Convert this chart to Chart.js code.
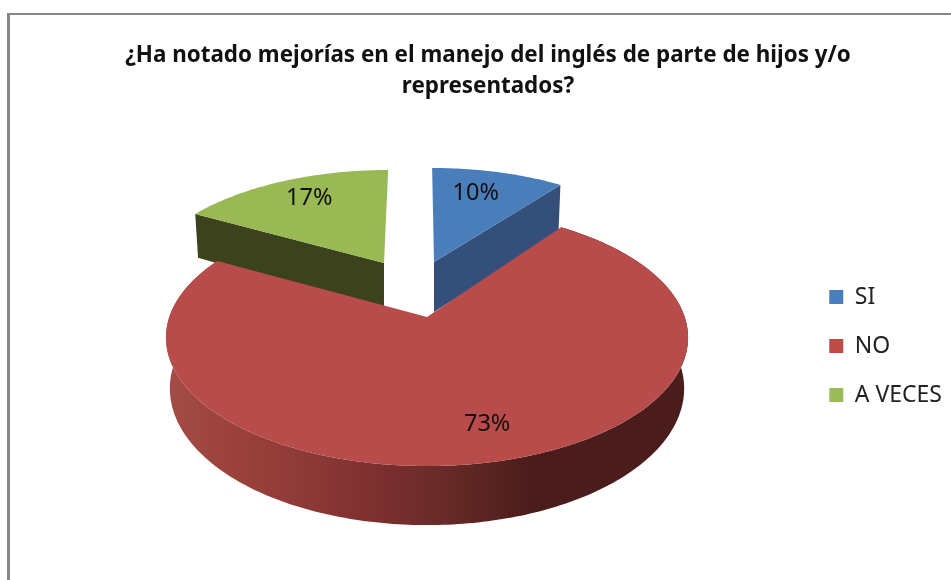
<!DOCTYPE html>
<html lang="es">
<head>
<meta charset="utf-8">
<style>
html,body{margin:0;padding:0;background:#fff;overflow:hidden;width:951px;height:580px}
#frame{position:absolute;left:7px;top:13px;width:1000px;height:700px;border-left:3px solid #868686;border-top:2px solid #868686}
#wrap{position:absolute;left:0;top:0;width:951px;height:580px}
</style>
<script src="https://cdn.jsdelivr.net/npm/chart.js@4/dist/chart.umd.js"></script>
</head>
<body>
<div id="frame"></div>
<div id="wrap"><canvas id="c" width="951" height="580"></canvas></div>
<script>
const titleLines = ['¿Ha notado mejorías en el manejo del inglés de parte de hijos y/o', 'representados?'];
const categories = ['SI', 'NO', 'A VECES'];
const percentages = [10, 73, 17];
const topColors = ['#4a7ebb', '#b84c4a', '#98b954'];
const legendColors = ['#4a7ebb', '#be4b48', '#9bbb59'];
const sideColors = ['#34507a', null, '#3c421c'];

// Projection of each (exploded) slice: apex, radii, perspective, shear, label placement.
const sliceViews = [
  {x0:434, y0:262, a:230,   b:100.6, k:-0.07,  s:2,  depth:50,   labelR:0.7, lx:-4.5, ly:-5},
  {x0:427, y0:317, a:257.7, b:125.2, k:-0.16,  s:0,  depth:49.6, labelR:0.7, lx:16,   ly:11},
  {x0:384, y0:263, a:238.7, b:111.4, k:-0.198, s:-5, depth:48,   labelR:0.7, lx:-1.5, ly:-5}
];
const drawOrder = [2, 0, 1];

function project(v, angle, r) {
  const uu = Math.cos(angle) * r, vv = Math.sin(angle) * r;
  const den = 1 + v.k * vv;
  return { x: v.x0 + (v.a * uu + v.s * vv) / den, y: v.y0 + v.b * vv / den, den };
}
function arcPoints(v, a0, a1) {
  const pts = [], n = Math.max(8, Math.ceil(Math.abs(a1 - a0) * 60));
  for (let i = 0; i <= n; i++) pts.push(project(v, a0 + (a1 - a0) * i / n, 1));
  return pts;
}
function down(v, p) {
  return { x: p.x + (v.x0 - p.x) * 0.015, y: p.y + v.depth / p.den };
}
function poly(ctx, pts, fill) {
  ctx.beginPath();
  pts.forEach((p, i) => i ? ctx.lineTo(p.x, p.y) : ctx.moveTo(p.x, p.y));
  ctx.closePath();
  ctx.fillStyle = fill;
  ctx.fill();
}

const pie3d = {
  id: 'pie3d',
  beforeDatasetsDraw(chart) {
    const ctx = chart.ctx, arcs = chart.getDatasetMeta(0).data;
    ctx.save();
    drawOrder.forEach(i => {
      const v = sliceViews[i], a0 = arcs[i].startAngle, a1 = arcs[i].endAngle;
      const rim = arcPoints(v, a0, a1);
      const apex = { x: v.x0, y: v.y0, den: 1 };
      if (sideColors[i]) {
        // the straight cut face that looks towards the viewer
        const edge = i === 0 ? rim[rim.length - 1] : rim[0];
        poly(ctx, [apex, edge, down(v, edge), down(v, apex)], sideColors[i]);
      } else {
        const g = ctx.createLinearGradient(170, 0, 690, 0);
        g.addColorStop(0.00, '#a34b45');
        g.addColorStop(0.14, '#9a4039');
        g.addColorStop(0.26, '#8d3a37');
        g.addColorStop(0.38, '#7f3030');
        g.addColorStop(0.50, '#6c2c2a');
        g.addColorStop(0.62, '#582320');
        g.addColorStop(0.70, '#4a1c1b');
        g.addColorStop(1.00, '#4a1c1b');
        const low = rim.map(p => down(v, p)).reverse();
        poly(ctx, rim.concat(low), g);
      }
      poly(ctx, [apex].concat(rim), topColors[i]);
    });
    ctx.fillStyle = '#111';
    ctx.font = '23.5px "Noto Sans"';
    ctx.textAlign = 'center';
    ctx.textBaseline = 'middle';
    drawOrder.forEach(i => {
      const v = sliceViews[i];
      const p = project(v, (arcs[i].startAngle + arcs[i].endAngle) / 2, v.labelR);
      ctx.fillText(percentages[i] + '%', p.x + v.lx, p.y + v.ly);
    });
    ctx.restore();
    return false;
  }
};

new Chart(document.getElementById('c'), {
  type: 'pie',
  data: {
    labels: categories,
    datasets: [{ data: percentages, backgroundColor: legendColors, borderWidth: 0 }]
  },
  plugins: [pie3d],
  options: {
    responsive: false,
    animation: false,
    layout: { padding: { left: 24, right: -1, top: 0, bottom: -112 } },
    plugins: {
      title: {
        display: true,
        text: titleLines,
        color: '#111',
        font: { family: '"Noto Sans"', size: 22.4, weight: 'bold', lineHeight: 1.39 },
        padding: { top: 40, bottom: 12 }
      },
      legend: {
        position: 'right',
        labels: {
          boxWidth: 14,
          boxHeight: 14,
          padding: 26,
          color: '#222',
          font: { family: '"Noto Sans"', size: 23 }
        }
      },
      tooltip: { enabled: false }
    }
  }
});
</script>
</body>
</html>
